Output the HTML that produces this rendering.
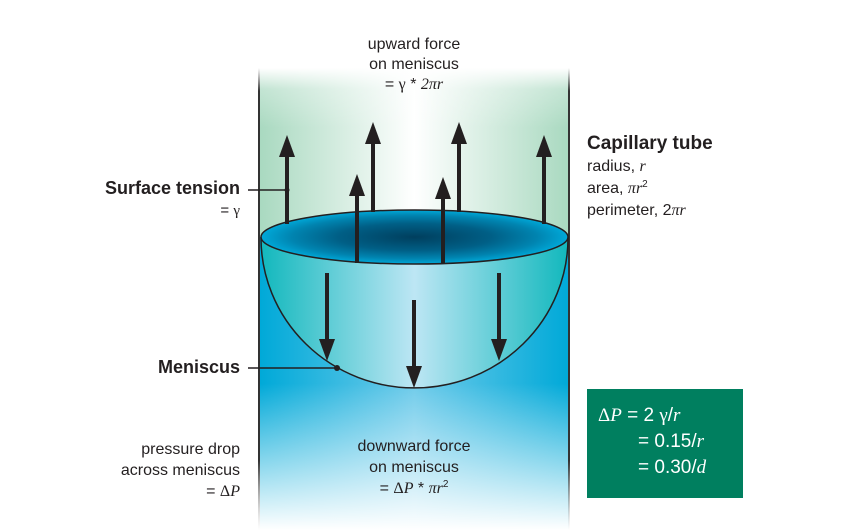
<!DOCTYPE html>
<html><head><meta charset="utf-8"><style>
html,body{margin:0;padding:0;background:#fff;}
svg{display:block;}
text{font-family:"Liberation Sans",sans-serif;fill:#231f20;}
.it{font-family:"Liberation Serif",serif;font-style:italic;}
.sr{font-family:"Liberation Serif",serif;font-style:normal;}
.w{fill:#fff;}
</style></head><body>
<svg width="862" height="532" viewBox="0 0 862 532" xmlns="http://www.w3.org/2000/svg">
<defs>
<linearGradient id="gh" x1="0" x2="1" y1="0" y2="0">
<stop offset="0" stop-color="#a9d9c0"/><stop offset="0.5" stop-color="#ffffff"/><stop offset="1" stop-color="#a9d9c0"/>
</linearGradient>
<linearGradient id="gfadeTop" x1="0" x2="0" y1="0" y2="1">
<stop offset="0" stop-color="#fff" stop-opacity="1"/><stop offset="0.35" stop-color="#fff" stop-opacity="0.3"/><stop offset="1" stop-color="#fff" stop-opacity="0"/>
</linearGradient>
<linearGradient id="bh" x1="0" x2="1" y1="0" y2="0">
<stop offset="0" stop-color="#00a9d8"/><stop offset="0.5" stop-color="#6fcbea"/><stop offset="1" stop-color="#00a9d8"/>
</linearGradient>
<linearGradient id="bfade" x1="0" x2="0" y1="0" y2="1">
<stop offset="0" stop-color="#fff" stop-opacity="0"/><stop offset="0.5" stop-color="#fff" stop-opacity="0"/><stop offset="1" stop-color="#fff" stop-opacity="1"/>
</linearGradient>
<linearGradient id="bowl" x1="0" x2="1" y1="0" y2="0">
<stop offset="0" stop-color="#12b8bd"/><stop offset="0.5" stop-color="#bde6f4"/><stop offset="1" stop-color="#12b8bd"/>
</linearGradient>
<radialGradient id="top" cx="0.5" cy="0.5" r="0.5">
<stop offset="0" stop-color="#003f5e"/><stop offset="0.5" stop-color="#005f86"/><stop offset="0.8" stop-color="#0084b0"/><stop offset="1" stop-color="#00a8d8"/>
</radialGradient>
<linearGradient id="wall" x1="0" x2="0" y1="0" y2="1">
<stop offset="0" stop-color="#555" stop-opacity="0"/><stop offset="0.05" stop-color="#333"/><stop offset="0.85" stop-color="#333"/><stop offset="1" stop-color="#999" stop-opacity="0"/>
</linearGradient>
</defs>
<rect x="260" y="68" width="309" height="172" fill="url(#gh)"/>
<rect x="260" y="68" width="309" height="60" fill="url(#gfadeTop)"/>
<rect x="260" y="237" width="309" height="293" fill="url(#bh)"/>
<rect x="260" y="237" width="309" height="293" fill="url(#bfade)"/>
<rect x="258" y="68" width="2" height="462" fill="url(#wall)"/>
<rect x="568" y="68" width="2" height="462" fill="url(#wall)"/>
<path d="M261,238 A153.5,150 0 0 0 568,238 Z" fill="url(#bowl)" stroke="#231f20" stroke-width="1.5"/>
<ellipse cx="414.5" cy="237" rx="153.5" ry="27" fill="url(#top)" stroke="#231f20" stroke-width="1.5"/>
<g fill="#231f20" stroke="none">
<rect x="285" y="150" width="4" height="74"/><polygon points="287,135 279,157 295,157"/>
<rect x="371" y="138" width="4" height="74"/><polygon points="373,122 365,144 381,144"/>
<rect x="457" y="138" width="4" height="74"/><polygon points="459,122 451,144 467,144"/>
<rect x="542" y="150" width="4" height="74"/><polygon points="544,135 536,157 552,157"/>
<rect x="355" y="190" width="4" height="73"/><polygon points="357,174 349,196 365,196"/>
<rect x="441" y="192" width="4" height="72"/><polygon points="443,177 435,199 451,199"/>
<rect x="325" y="273" width="4" height="70"/><polygon points="327,361 319,339 335,339"/>
<rect x="412" y="300" width="4" height="70"/><polygon points="414,388 406,366 422,366"/>
<rect x="497" y="273" width="4" height="70"/><polygon points="499,361 491,339 507,339"/>
</g>
<line x1="248" y1="190" x2="287" y2="190" stroke="#231f20" stroke-width="1.5"/>
<circle cx="287" cy="190" r="2.5" fill="#231f20"/>
<line x1="248" y1="368" x2="337" y2="368" stroke="#231f20" stroke-width="1.5"/>
<circle cx="337" cy="368" r="3" fill="#231f20"/>
<g font-size="16" text-anchor="middle">
<text x="414" y="49">upward force</text>
<text x="414" y="69">on meniscus</text>
<text x="414" y="89">= <tspan class="sr">γ</tspan> * <tspan class="it">2πr</tspan></text>
<text x="414" y="451">downward force</text>
<text x="414" y="472">on meniscus</text>
<text x="414" y="493">= <tspan class="sr">Δ</tspan><tspan class="it">P</tspan> * <tspan class="it">πr</tspan><tspan font-size="10" dy="-6">2</tspan></text>
</g>
<g text-anchor="end">
<text x="240" y="194" font-size="18" font-weight="bold">Surface tension</text>
<text x="240" y="215" font-size="15">= <tspan class="sr">γ</tspan></text>
<text x="240" y="373" font-size="18" font-weight="bold">Meniscus</text>
<text x="240" y="454" font-size="16">pressure drop</text>
<text x="240" y="475" font-size="16">across meniscus</text>
<text x="240" y="496" font-size="16">= <tspan class="sr">Δ</tspan><tspan class="it">P</tspan></text>
</g>
<g font-size="16">
<text x="587" y="149" font-size="19" font-weight="bold">Capillary tube</text>
<text x="587" y="171">radius, <tspan class="it">r</tspan></text>
<text x="587" y="193">area, <tspan class="it">πr</tspan><tspan font-size="10" dy="-6">2</tspan></text>
<text x="587" y="215">perimeter, 2<tspan class="it">πr</tspan></text>
</g>
<rect x="587" y="389" width="156" height="109" fill="#007f5f"/>
<g font-size="19">
<text x="598" y="421" class="w"><tspan class="sr w">Δ</tspan><tspan class="it w">P</tspan> = 2 <tspan class="sr w">γ</tspan>/<tspan class="it w">r</tspan></text>
<text x="638" y="447" class="w">= 0.15/<tspan class="it w">r</tspan></text>
<text x="638" y="473" class="w">= 0.30/<tspan class="it w">d</tspan></text>
</g>
</svg>
</body></html>
